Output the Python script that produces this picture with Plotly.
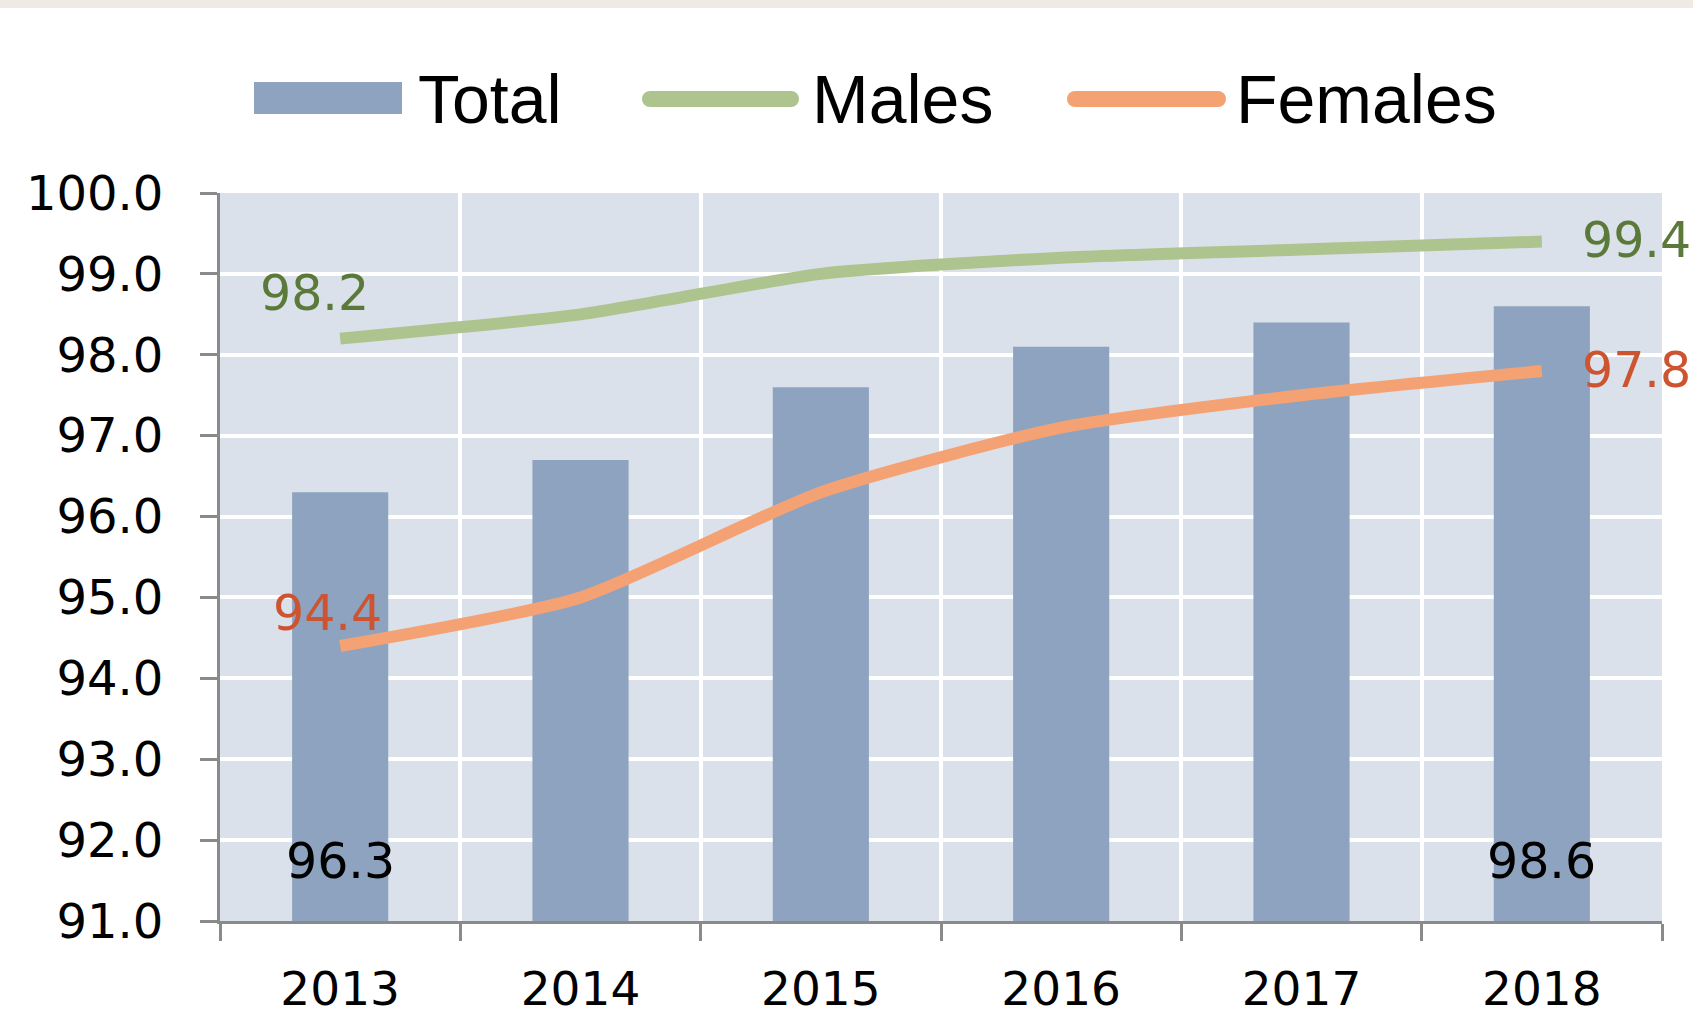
import plotly.graph_objects as go

years = ["2013", "2014", "2015", "2016", "2017", "2018"]
total = [96.3, 96.7, 97.6, 98.1, 98.4, 98.6]
males = [98.2, 98.5, 99.0, 99.2, 99.3, 99.4]
females = [94.4, 95.0, 96.3, 97.1, 97.5, 97.8]
y_ticks = [91.0, 92.0, 93.0, 94.0, 95.0, 96.0, 97.0, 98.0, 99.0, 100.0]
legend_names = ["Total", "Males", "Females"]

W, H = 1693, 1018
L, R, T, B = 220, 31, 193, 97
PW, PH = W - L - R, H - T - B

BAR_C = "#8da3bf"
GREEN = "#adc48e"
ORANGE = "#f4a274"
GREEN_T = "#5b7a3a"
ORANGE_T = "#cc5430"
BG = "#dae1eb"
AXIS_C = "#8a8a8a"
FONT = "DejaVu Sans"
LBL = 49

xi = list(range(len(years)))
bounds = [i - 0.5 for i in range(len(years) + 1)]


def px(xp):
    return (xp - L) / PW


def py(yp):
    return (H - B - yp) / PH


fig = go.Figure()
fig.add_trace(go.Bar(x=xi, y=total, width=0.4, marker=dict(color=BAR_C, line=dict(width=0)),
                     name=legend_names[0], showlegend=False))
fig.add_trace(go.Scatter(x=xi, y=males, mode="lines", name=legend_names[1], showlegend=False,
                         line=dict(color=GREEN, width=12, shape="spline", smoothing=0.6)))
fig.add_trace(go.Scatter(x=xi, y=females, mode="lines", name=legend_names[2], showlegend=False,
                         line=dict(color=ORANGE, width=12, shape="spline", smoothing=0.6)))

ann = []
# data labels
ann.append(dict(x=xi[0], y=males[0], text=f"{males[0]:.1f}", showarrow=False, xshift=-26, yshift=45,
                font=dict(family=FONT, size=LBL, color=GREEN_T)))
ann.append(dict(x=xi[0], y=females[0], text=f"{females[0]:.1f}", showarrow=False, xshift=-13, yshift=32,
                font=dict(family=FONT, size=LBL, color=ORANGE_T)))
ann.append(dict(x=xi[-1], y=males[-1], text=f"{males[-1]:.1f}", showarrow=False, xanchor="left",
                xshift=38, yshift=1, font=dict(family=FONT, size=LBL, color=GREEN_T)))
ann.append(dict(x=xi[-1], y=females[-1], text=f"{females[-1]:.1f}", showarrow=False, xanchor="left",
                xshift=38, yshift=0, font=dict(family=FONT, size=LBL, color=ORANGE_T)))
for i in (0, len(years) - 1):
    ann.append(dict(x=xi[i], y=y_ticks[0], text=f"{total[i]:.1f}", showarrow=False, yshift=60,
                    font=dict(family=FONT, size=LBL, color="#000000")))

# manual legend
shapes = []
shapes.append(dict(type="rect", xref="paper", yref="paper", x0=px(254), x1=px(402), y0=py(114), y1=py(82),
                   fillcolor=BAR_C, line=dict(width=0)))
for (x0, x1, col) in [(650, 791, GREEN), (1075, 1218, ORANGE)]:
    shapes.append(dict(type="line", xref="paper", yref="paper", x0=px(x0), x1=px(x1), y0=py(99), y1=py(99),
                       line=dict(color=col, width=16)))
    for xc in (x0, x1):
        shapes.append(dict(type="circle", xref="paper", yref="paper", x0=px(xc - 8), x1=px(xc + 8),
                           y0=py(107), y1=py(91), fillcolor=col, line=dict(width=0)))
for name, xl in zip(legend_names, [416, 810, 1234]):
    ann.append(dict(xref="paper", yref="paper", x=px(xl), y=py(99), xanchor="left", yanchor="middle",
                    text=name, showarrow=False, font=dict(family="Liberation Sans", size=68, color="#000000")))

# top band
shapes.append(dict(type="rect", xref="paper", yref="paper", x0=px(-5), x1=px(W + 5), y0=py(8), y1=py(-5),
                   fillcolor="#efebe4", line=dict(width=0)))

fig.update_layout(
    width=W, height=H,
    margin=dict(l=L, r=R, t=T, b=B, autoexpand=False),
    paper_bgcolor="white", plot_bgcolor=BG,
    showlegend=False,
    annotations=ann, shapes=shapes,
)
fig.update_xaxes(range=[bounds[0], bounds[-1]], tickvals=xi, ticktext=years, automargin=False,
                 showgrid=False, zeroline=False, ticks="", tickangle=0,
                 minor=dict(tickvals=bounds, showgrid=True, gridcolor="white", gridwidth=4,
                            ticks="outside", ticklen=17, tickwidth=3, tickcolor=AXIS_C),
                 showline=True, linecolor=AXIS_C, linewidth=3,
                 tickfont=dict(family=FONT, size=47, color="#000000"), ticklabelstandoff=25)
fig.update_yaxes(range=[y_ticks[0], y_ticks[-1]], tickvals=y_ticks, ticktext=[f"{v:.1f}" for v in y_ticks],
                 automargin=False,
                 showgrid=True, gridcolor="white", gridwidth=4, zeroline=False,
                 ticks="outside", ticklen=17, tickwidth=3, tickcolor=AXIS_C,
                 showline=True, linecolor=AXIS_C, linewidth=3,
                 tickfont=dict(family=FONT, size=48, color="#000000"), ticklabelstandoff=27)

fig.write_html("out.html", config={"displayModeBar": False},
               post_script="document.body.style.margin='0';document.body.style.overflow='hidden';")
